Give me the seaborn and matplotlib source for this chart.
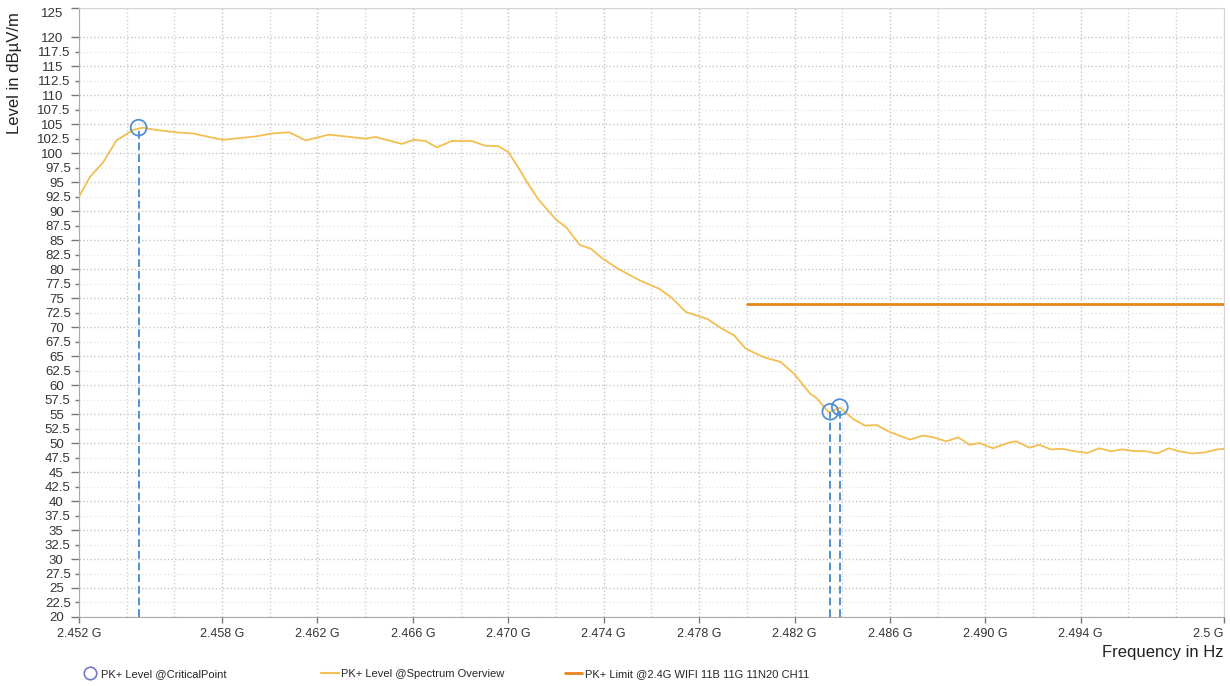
import pandas as pd
import matplotlib
matplotlib.use("Agg")
import matplotlib.pyplot as plt
import seaborn as sns
from matplotlib.lines import Line2D

# spectrum overview trace (GHz, dBuV/m)
freq_ghz = [2.45200, 2.45246, 2.45301, 2.45357, 2.45427, 2.45468, 2.45524, 2.45608,
            2.45677, 2.45803, 2.45942, 2.46011, 2.46081, 2.46151, 2.46248, 2.46401,
            2.46443, 2.46554, 2.46603, 2.46652, 2.46701, 2.46763, 2.46847, 2.46902,
            2.46958, 2.47000, 2.47041, 2.47083, 2.47125, 2.47167, 2.47201, 2.47243,
            2.47299, 2.47347, 2.47396, 2.47459, 2.47549, 2.47633, 2.47681, 2.47745,
            2.47835, 2.47897, 2.47946, 2.47995, 2.48071, 2.48141, 2.48197, 2.48266,
            2.48294, 2.48343, 2.48391, 2.48447, 2.48496, 2.48544, 2.48600, 2.48684,
            2.48739, 2.48781, 2.48837, 2.48886, 2.48934, 2.48976, 2.49032, 2.49101,
            2.49129, 2.49185, 2.49226, 2.49275, 2.49324, 2.49372, 2.49428, 2.49477,
            2.49526, 2.49574, 2.49630, 2.49672, 2.49721, 2.49769, 2.49811, 2.49867,
            2.49922, 2.49972, 2.50000]
level_dbuv = [92.5, 95.9, 98.4, 102.2, 104.0, 104.4, 104.0, 103.6,
              103.4, 102.3, 102.9, 103.4, 103.6, 102.2, 103.2, 102.5,
              102.8, 101.6, 102.3, 102.1, 101.0, 102.1, 102.1, 101.3,
              101.2, 100.2, 97.6, 94.7, 92.1, 90.1, 88.5, 87.2,
              84.2, 83.5, 81.8, 80.1, 78.1, 76.6, 75.2, 72.6,
              71.4, 69.7, 68.6, 66.3, 64.8, 64.0, 62.0, 58.5,
              57.7, 55.3, 56.1, 54.1, 53.0, 53.1, 51.9, 50.6,
              51.3, 51.0, 50.3, 51.0, 49.7, 50.0, 49.1, 50.1,
              50.3, 49.2, 49.7, 48.9, 49.0, 48.6, 48.3, 49.1,
              48.6, 48.9, 48.6, 48.6, 48.2, 49.1, 48.6, 48.2,
              48.4, 48.9, 49.0]

limit_freq = [2.480, 2.500]
limit_level = [74.0, 74.0]

crit_freq = [2.4545, 2.4835, 2.4839]
crit_level = [104.4, 55.4, 56.2]

x_ticks = [2.452, 2.458, 2.462, 2.466, 2.470, 2.474, 2.478, 2.482, 2.486, 2.490, 2.494, 2.500]
x_tick_labels = ["2.452 G", "2.458 G", "2.462 G", "2.466 G", "2.470 G", "2.474 G",
                 "2.478 G", "2.482 G", "2.486 G", "2.490 G", "2.494 G", "2.5 G"]
x_grid = [2.454, 2.456, 2.460, 2.464, 2.468, 2.472, 2.476, 2.480, 2.484, 2.488, 2.492, 2.496, 2.498]
y_major = [20, 25, 30, 35, 40, 45, 50, 55, 60, 65, 70, 75, 80, 85, 90, 95, 100, 105, 110, 115, 120, 125]
y_minor = [22.5, 27.5, 32.5, 37.5, 42.5, 47.5, 52.5, 57.5, 62.5, 67.5, 72.5, 77.5, 82.5,
           87.5, 92.5, 97.5, 102.5, 107.5, 112.5, 117.5]

spec_color = '#F3BE52'
limit_color = '#E8861C'
crit_color = '#5290D2'

sns.set_style("white")
plt.rcParams['font.family'] = ['Liberation Sans', 'DejaVu Sans']

fig = plt.figure(figsize=(12.3, 6.86), dpi=100)
ax = fig.add_axes([0.0642, 0.1006, 0.9308, 0.8874])

spec = pd.DataFrame({'freq': freq_ghz, 'level': level_dbuv})
sns.lineplot(data=spec, x='freq', y='level', color=spec_color, lw=1.3, ax=ax, zorder=3)
sns.lineplot(x=limit_freq, y=limit_level, color=limit_color, lw=2, ax=ax, zorder=3)

ax.vlines(crit_freq, 20, crit_level, colors=crit_color, linestyles=(0, (4, 2)), lw=1.4, zorder=4)
sns.scatterplot(x=crit_freq, y=crit_level, marker='o', s=130, color=crit_color,
                linewidth=1.3, ax=ax, zorder=5)
pts = ax.collections[-1]
pts.set_facecolor('none')
pts.set_edgecolor(crit_color)

ax.set_xlim(2.452, 2.500)
ax.set_ylim(20, 125)

ax.set_xticks(x_ticks, x_tick_labels)
ax.set_xticks(x_grid, minor=True)
ax.set_yticks(y_major, [f"{v:g}" for v in y_major])
ax.set_yticks(y_minor, [f"{v:g}" for v in y_minor], minor=True)

ax.tick_params(axis='x', which='major', length=4, width=1, color='#777777', labelsize=9,
               labelcolor='#333333', pad=4, direction='out', bottom=True)
ax.tick_params(axis='x', which='minor', length=0)
ax.tick_params(axis='y', which='major', length=6, width=1, color='#777777', labelsize=9.5,
               labelcolor='#333333', pad=5, direction='out', left=True)
ax.tick_params(axis='y', which='minor', length=3, width=1, color='#777777', labelsize=9.5,
               labelcolor='#333333', pad=3, direction='out', left=True)
ax.get_xticklabels()[-1].set_ha('right')
ax.get_yticklabels()[-1].set_va('top')

ax.grid(which='major', axis='both', ls=':', color='#c4c4c4', lw=1)
ax.grid(which='minor', axis='x', ls=':', color='#d2d2d2', lw=1)
ax.grid(which='minor', axis='y', ls=':', color='#e6e6e6', lw=1)
ax.set_axisbelow(True)

for side in ['top', 'right']:
    ax.spines[side].set_color('#d4d4d4')
for side in ['left', 'bottom']:
    ax.spines[side].set_color('#aaaaaa')

ax.set_ylabel("Level in dBµV/m", fontsize=12, loc='top', color='#222222')
ax.yaxis.set_label_coords(-0.050, 0.993)
ax.set_xlabel("Frequency in Hz", fontsize=12, loc='right', color='#222222')
ax.xaxis.set_label_coords(1.0, -0.046)

legend_items = [
    (Line2D([], [], marker='o', ls='none', mfc='none', mec='#7377CC', ms=9, mew=1.2),
     "PK+ Level @CriticalPoint", 0.066),
    (Line2D([], [], color=spec_color, lw=1.5), "PK+ Level @Spectrum Overview", 0.261),
    (Line2D([], [], color=limit_color, lw=2), "PK+ Limit @2.4G WIFI 11B 11G 11N20 CH11", 0.459),
]
for handle, label, xpos in legend_items:
    fig.legend([handle], [label], loc='center left', bbox_to_anchor=(xpos, 0.017),
               frameon=False, fontsize=8, handlelength=1.6, handletextpad=0.2,
               borderpad=0, borderaxespad=0)

fig.savefig("out.png", dpi=100)
